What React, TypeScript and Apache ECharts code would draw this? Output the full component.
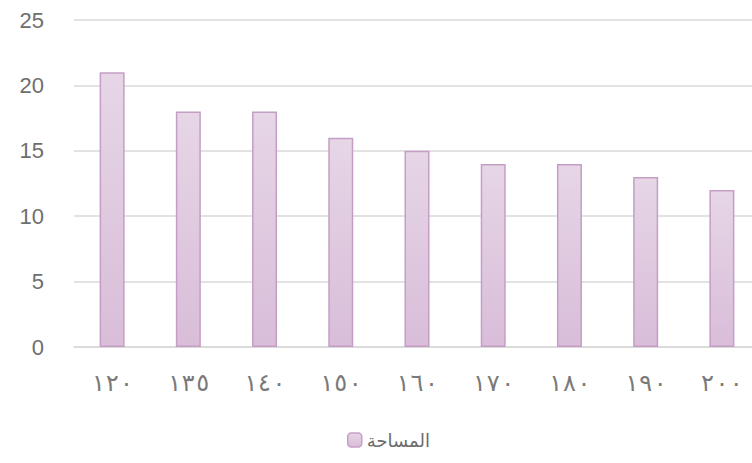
import React, { useEffect, useRef } from "react";
import * as echarts from "echarts";

const categories = ["١٢٠", "١٣٥", "١٤٠", "١٥٠", "١٦٠", "١٧٠", "١٨٠", "١٩٠", "٢٠٠"];
const areaValues = [21, 18, 18, 16, 15, 14, 14, 13, 12];
const seriesName = "المساحة";
const yTicks = { min: 0, max: 25, interval: 5 };

export default function App() {
  const ref = useRef<HTMLDivElement>(null);
  useEffect(() => {
    if (!ref.current) return;
    const chart = echarts.init(ref.current, undefined, { renderer: "svg" });
    const fill = new echarts.graphic.LinearGradient(0, 0, 0, 1, [
      { offset: 0, color: "#e6d6e6" },
      { offset: 1, color: "#d9bdd9" },
    ]);
    chart.setOption({
      animation: false,
      backgroundColor: "#ffffff",
      grid: { left: 74, top: 20, bottom: 116, right: 0 },
      legend: {
        bottom: 9,
        left: 342,
        itemWidth: 14,
        itemHeight: 14,
        itemGap: 3,
        data: [seriesName],
        textStyle: { fontSize: 18, color: "#6b6b6b", fontFamily: "DejaVu Sans" },
        itemStyle: { color: fill, borderColor: "#c59ec6", borderWidth: 1.5 },
      },
      xAxis: {
        type: "category",
        data: categories,
        axisLine: { lineStyle: { color: "#d9d9d9", width: 1.5 } },
        axisTick: { show: false },
        axisLabel: { fontSize: 24, color: "#7a7a7a", margin: 24, fontFamily: "DejaVu Sans Mono" },
      },
      yAxis: {
        type: "value",
        min: yTicks.min,
        max: yTicks.max,
        interval: yTicks.interval,
        axisLine: { show: false },
        axisTick: { show: false },
        splitLine: { lineStyle: { color: "#d9d9d9", width: 1.5 } },
        axisLabel: { fontSize: 22, color: "#6e6e6e", margin: 30, fontFamily: "Liberation Sans" },
      },
      series: [
        {
          name: seriesName,
          type: "bar",
          data: areaValues,
          barWidth: 25,
          itemStyle: { color: fill, borderColor: "#c59ec6", borderWidth: 1.5 },
        },
      ],
    });
    return () => chart.dispose();
  }, []);
  return <div ref={ref} style={{ position: "fixed", left: 0, top: 0, width: 760, height: 463 }} />;
}
